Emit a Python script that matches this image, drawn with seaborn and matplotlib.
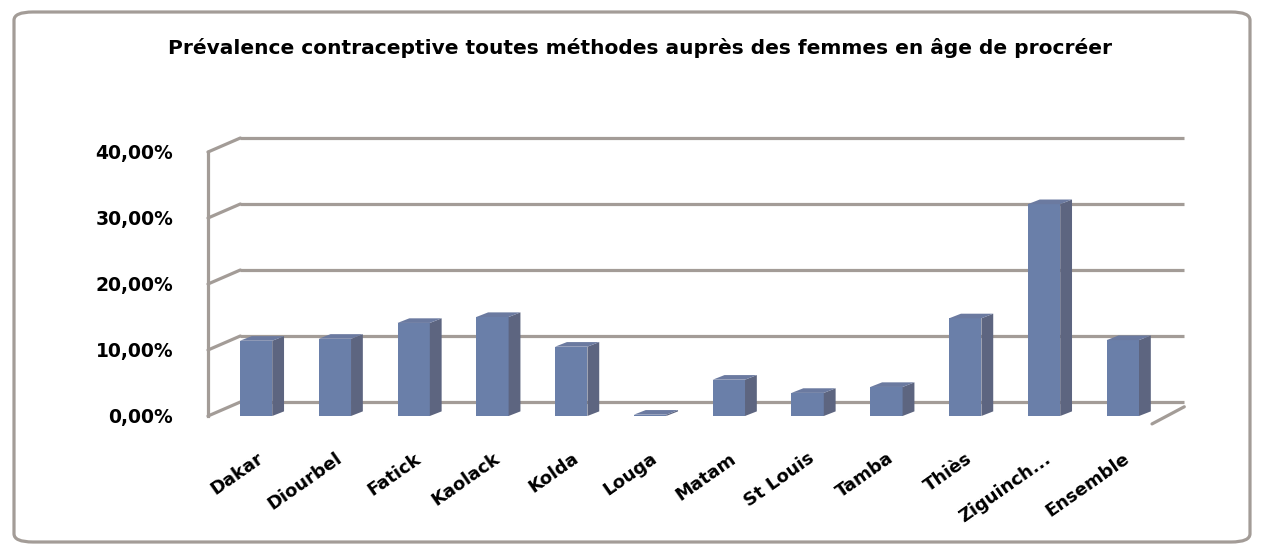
import numpy as np
import pandas as pd
import matplotlib
matplotlib.use("Agg")
import matplotlib.pyplot as plt
import seaborn as sns
from matplotlib.patches import Polygon, FancyBboxPatch
from matplotlib.ticker import FuncFormatter, FixedLocator

# data
regions = ["Dakar", "Diourbel", "Fatick", "Kaolack", "Kolda", "Louga", "Matam",
           "St Louis", "Tamba", "Thiès", "Ziguinch...", "Ensemble"]
prevalence = [0.114, 0.117, 0.141, 0.150, 0.105, 0.002, 0.055,
              0.035, 0.044, 0.148, 0.321, 0.115]
yticks = [0.0, 0.1, 0.2, 0.3, 0.4]
title = "Prévalence contraceptive toutes méthodes auprès des femmes en âge de procréer"

front_col = "#6a7fa9"
side_col = "#5d6580"
top_col = "#6b7aa0"
grid_col = "#a39c97"

df = pd.DataFrame({"region": regions, "prev": prevalence})

sns.set_style("white")
plt.rcParams["text.color"] = "black"
plt.rcParams["xtick.labelcolor"] = "black"
plt.rcParams["ytick.labelcolor"] = "black"
fig = plt.figure(figsize=(12.64, 5.5), dpi=100)
ax = fig.add_axes([208 / 1264, 134 / 550, 944 / 1264, 264 / 550])

sns.barplot(data=df, x="region", y="prev", color=front_col, saturation=1,
            width=0.41, ax=ax, zorder=3, linewidth=0)

x0, x1 = -0.61, 11.37
ax.set_xlim(x0, x1)
ax.set_ylim(0, 0.4)

# fake 3d depth (data units)
wdx, wdy = 0.41, 0.0212
bdx, bdy = 0.15, 0.007

# back wall gridlines and left wall diagonals
for t in yticks:
    ax.plot([x0 + wdx, x1 + wdx], [t + wdy, t + wdy], color=grid_col, lw=2.3,
            zorder=1, clip_on=False, solid_capstyle="butt")
    ax.plot([x0, x0 + wdx], [t, t + wdy], color=grid_col, lw=2.3,
            zorder=1, clip_on=False)
# floor right edge
ax.plot([x1, x1 + wdx], [-0.012, 0.014], color=grid_col, lw=2.3, zorder=1, clip_on=False)

# side and top faces of the bars
for p in ax.patches:
    bx, by = p.get_x(), p.get_y()
    w, h = p.get_width(), p.get_height()
    side = Polygon([(bx + w, by), (bx + w + bdx, by + bdy),
                    (bx + w + bdx, by + h + bdy), (bx + w, by + h)],
                   closed=True, facecolor=side_col, edgecolor="none", zorder=3,
                   clip_on=False)
    top = Polygon([(bx, by + h), (bx + w, by + h),
                   (bx + w + bdx, by + h + bdy), (bx + bdx, by + h + bdy)],
                  closed=True, facecolor=top_col, edgecolor="none", zorder=3,
                  clip_on=False)
    ax.add_patch(side)
    ax.add_patch(top)

for s in ["top", "right", "bottom"]:
    ax.spines[s].set_visible(False)
ax.spines["left"].set_color(grid_col)
ax.spines["left"].set_linewidth(2.3)

ax.set_yticks(yticks)
ax.yaxis.set_major_formatter(FuncFormatter(lambda v, pos: f"{v*100:.2f}%".replace(".", ",")))
ax.tick_params(axis="y", length=7, width=2, color=grid_col, pad=18, labelsize=13.5)
ax.xaxis.set_minor_locator(FixedLocator(np.arange(0.5, 11, 1)))
ax.tick_params(axis="x", which="major", length=0, pad=24, labelsize=13)
ax.tick_params(axis="x", which="minor", length=6, width=2, color=grid_col)
for lbl in ax.get_yticklabels():
    lbl.set_fontweight("bold")
for lbl in ax.get_xticklabels():
    lbl.set_rotation(35)
    lbl.set_ha("right")
    lbl.set_rotation_mode("anchor")
    lbl.set_fontweight("bold")
ax.set_xlabel("")
ax.set_ylabel("")
ax.grid(False)

fig.text(0.506, 1 - 48 / 550, title, ha="center", va="center",
         fontsize=14.5, fontweight="bold", color="black")

border = FancyBboxPatch((14 / 1264, 8 / 550), 1236 / 1264, 530 / 550,
                        boxstyle="round,pad=0,rounding_size=0.015",
                        transform=fig.transFigure, facecolor="none",
                        edgecolor=grid_col, lw=2.3)
fig.patches.append(border)

fig.savefig("out.png", dpi=100)
